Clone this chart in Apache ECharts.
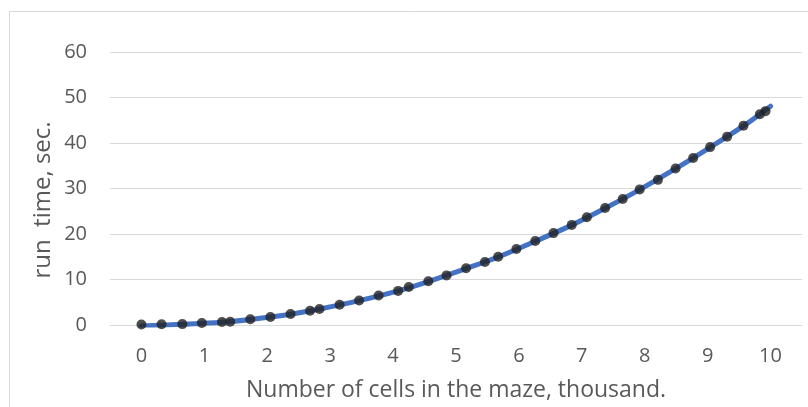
<!DOCTYPE html>
<html>
<head>
<meta charset="utf-8">
<script src="https://cdn.jsdelivr.net/npm/echarts@6/dist/echarts.min.js"></script>
<style>
html,body{margin:0;padding:0;background:#fff;}
#chart{width:808px;height:407px;}
</style>
</head>
<body>
<div id="chart"></div>
<script>
// Data
const cellsThousand = [0, 0.32, 0.65, 0.96, 1.28, 1.41, 1.73, 2.05, 2.37, 2.68, 2.83, 3.15, 3.46, 3.77, 4.08, 4.25, 4.56, 4.85, 5.16, 5.46, 5.67, 5.96, 6.26, 6.55, 6.84, 7.08, 7.37, 7.65, 7.92, 8.21, 8.49, 8.77, 9.04, 9.31, 9.57, 9.83, 9.92];
const runTimeSec = [0.1, 0.15, 0.2, 0.44, 0.66, 0.73, 1.25, 1.76, 2.4, 3.14, 3.5, 4.47, 5.4, 6.5, 7.5, 8.35, 9.6, 10.9, 12.46, 13.85, 15.0, 16.7, 18.46, 20.2, 22.0, 23.7, 25.7, 27.7, 29.8, 31.9, 34.4, 36.7, 39.1, 41.4, 43.8, 46.3, 47.0];
// Curve drawn through the points, ending at x = 10
const curveX = [0, 0.65, 1.28, 1.73, 2.37, 2.83, 3.46, 4.08, 4.56, 5.16, 5.67, 6.26, 6.84, 7.37, 7.92, 8.49, 9.04, 9.57, 10.0];
const curveY = [-0.2, 0.15, 0.6, 1.2, 2.35, 3.5, 5.35, 7.5, 9.55, 12.4, 14.95, 18.4, 21.95, 25.65, 29.75, 34.35, 39.05, 43.75, 48.1];
const yTicks = [0, 10, 20, 30, 40, 50, 60];
const xTicks = [0, 1, 2, 3, 4, 5, 6, 7, 8, 9, 10];
const xTitle = 'Number of cells in the maze, thousand.';
const yTitle = 'run  time, sec.';

const chart = echarts.init(document.getElementById('chart'), null, {renderer: 'canvas'});
const fontFamily = '"Open Sans", Lato, sans-serif';
const txt = '#595959';
chart.setOption({
  animation: false,
  backgroundColor: '#ffffff',
  graphic: [
    {type: 'rect', shape: {x: 9.5, y: 11.5, width: 830, height: 420}, style: {fill: 'none', stroke: '#d9d9d9', lineWidth: 1}, z: 0},
    {type: 'text', x: 43, y: 200, rotation: Math.PI / 2,
     style: {text: yTitle, font: '24px ' + fontFamily, fill: txt, textAlign: 'center', textVerticalAlign: 'middle'}}
  ],
  grid: {left: 110, right: 6, top: 52, bottom: 82, outerBoundsMode: 'none', containLabel: false},
  xAxis: {
    type: 'value', min: -0.5, max: 10.5, interval: 0.5,
    name: xTitle, nameLocation: 'middle', nameGap: 54,
    nameTextStyle: {color: txt, fontSize: 23, fontFamily: fontFamily},
    axisLine: {show: true, lineStyle: {color: '#d9d9d9', width: 1}},
    axisTick: {show: false},
    splitLine: {show: false},
    axisLabel: {
      color: txt, fontSize: 20, fontFamily: fontFamily, margin: 21,
      formatter: v => (xTicks.indexOf(Math.round(v * 100) / 100) >= 0 ? String(v) : '')
    }
  },
  yAxis: {
    type: 'value', min: yTicks[0], max: yTicks[yTicks.length - 1], interval: 10,
    axisLine: {show: false}, axisTick: {show: false},
    splitLine: {show: true, lineStyle: {color: '#d9d9d9', width: 1}},
    axisLabel: {color: txt, fontSize: 20, fontFamily: fontFamily, margin: 23}
  },
  series: [
    {
      type: 'line', smooth: 0.35, showSymbol: false, symbol: 'none',
      data: curveX.map((x, i) => [x, curveY[i]]),
      lineStyle: {color: '#4472C4', width: 5, cap: 'round'}, z: 2
    },
    {
      type: 'scatter', symbol: 'circle', symbolSize: 10,
      data: cellsThousand.map((x, i) => [x, runTimeSec[i]]),
      itemStyle: {color: '#222222'}, z: 3
    }
  ]
});
</script>
</body>
</html>
